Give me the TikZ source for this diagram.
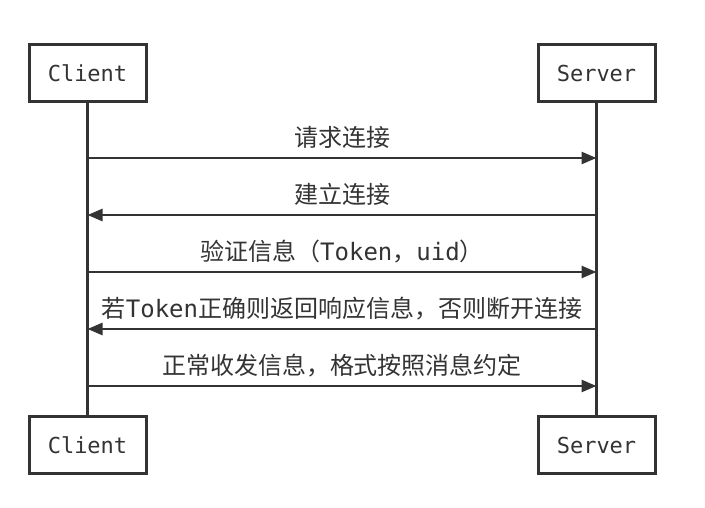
\documentclass[tikz,border=0pt]{standalone}
\usepackage{fontspec}
\setmainfont{DejaVu Sans Mono}
\newfontfamily\cjk{Noto Sans CJK SC}
\newfontfamily\mono{DejaVu Sans Mono}
\usepackage{tikz}
\usetikzlibrary{positioning,arrows.meta}
\definecolor{ink}{HTML}{333333}

\begin{document}
\begin{tikzpicture}[x=1pt, y=-1pt,
  actor/.style={draw=ink, line width=3pt, fill=white, minimum width=117pt, minimum height=57pt, inner sep=0pt, text=ink, font=\fontsize{22}{26}\selectfont\mono},
  life/.style={draw=ink, line width=3pt},
  msg/.style={draw=ink, line width=2.5pt, -{Triangle[length=15pt,width=12pt]}},
  lbl/.style={midway, above=8pt, inner sep=0pt, text=ink, font=\fontsize{24}{28}\selectfont\cjk}]
\useasboundingbox (0,0) rectangle (705,508);
\node[actor] (C0) at (87.5,73) {Client};
\node[actor] (S0) at (596.5,73) {Server};
\node[actor] (C1) at (87.5,445) {Client};
\node[actor] (S1) at (596.5,445) {Server};

\coordinate (c1) at (87.5,158);  \coordinate (s1) at (596.5,158);
\coordinate (c2) at (87.5,215);  \coordinate (s2) at (596.5,215);
\coordinate (c3) at (87.5,272);  \coordinate (s3) at (596.5,272);
\coordinate (c4) at (87.5,329);  \coordinate (s4) at (596.5,329);
\coordinate (c5) at (87.5,386);  \coordinate (s5) at (596.5,386);

\draw[life] (C0) -- (C1);
\draw[life] (S0) -- (S1);

\draw[msg] (c1) -- node[lbl]{请求连接} (s1);
\draw[msg] (s2) -- node[lbl]{建立连接} (c2);
\draw[msg] (c3) -- node[lbl]{验证信息（{\mono Token}，{\mono uid}）} (s3);
\draw[msg] (s4) -- node[lbl]{若{\mono Token}正确则返回响应信息，否则断开连接} (c4);
\draw[msg] (c5) -- node[lbl]{正常收发信息，格式按照消息约定} (s5);
\end{tikzpicture}
\end{document}
